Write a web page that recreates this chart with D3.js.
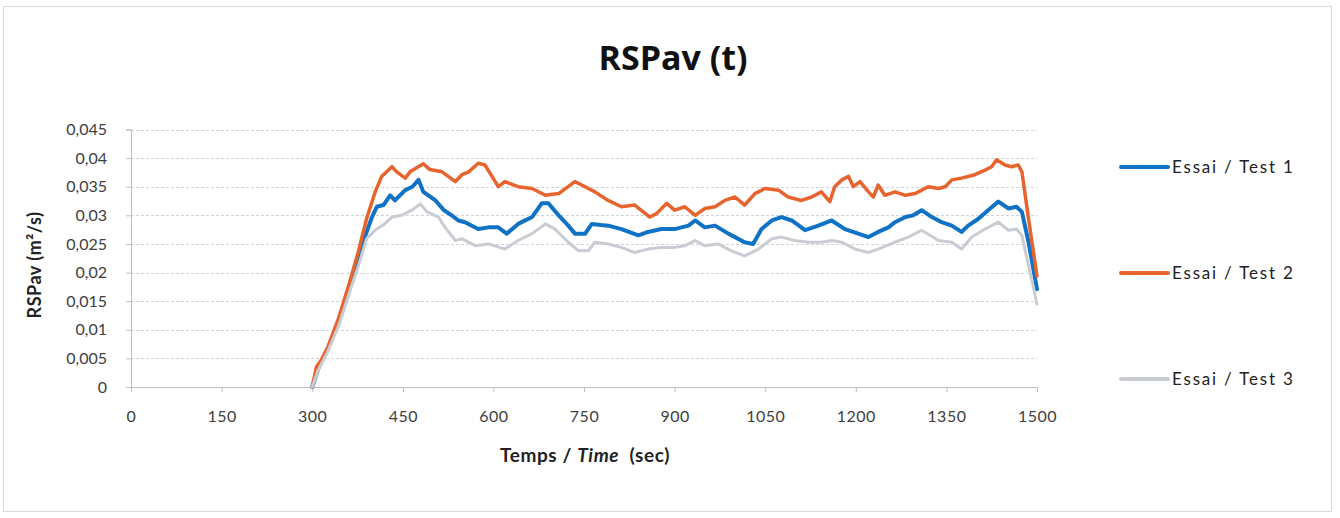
<!DOCTYPE html>
<html>
<head>
<meta charset="utf-8">
<script src="https://cdn.jsdelivr.net/npm/d3@7"></script>
<style>
  html, body { margin: 0; padding: 0; background: #fff; }
  svg { display: block; }
</style>
</head>
<body>
<svg id="chart" width="1340" height="518"></svg>
<script>
// ---- Data (time in s, RSPav in m²/s) ----
const seriesNames = ["Essai / Test 1", "Essai / Test 2", "Essai / Test 3"];
const seriesColors = ["#0f72c4", "#e8642e", "#c9ccd3"];

const test1 = [[300,0],[310,0.0032],[325,0.0065],[343,0.011],[360,0.0165],[382,0.0247],[399,0.0297],[407,0.0315],[418,0.0318],[429,0.0335],[437,0.0326],[454,0.0344],[466,0.035],[476,0.0362],[484,0.0341],[504,0.0326],[518,0.0309],[531,0.03],[542,0.0291],[553,0.0288],[575,0.0276],[592,0.0279],[608,0.0279],[622,0.0268],[641,0.0285],[664,0.0297],[680,0.0321],[691,0.0321],[708,0.03],[724,0.0282],[735,0.0268],[752,0.0268],[763,0.0285],[778,0.0283],[790,0.0282],[812,0.0276],[840,0.0265],[856,0.0271],[878,0.0276],[900,0.0276],[923,0.0282],[934,0.0291],[950,0.0279],[967,0.0282],[989,0.0268],[1016,0.0253],[1030,0.025],[1044,0.0276],[1061,0.0291],[1077,0.0297],[1094,0.0291],[1116,0.0274],[1138,0.0282],[1160,0.0291],[1182,0.0276],[1204,0.0268],[1221,0.0262],[1237,0.0271],[1254,0.0279],[1265,0.0288],[1282,0.0297],[1295,0.03],[1309,0.0309],[1326,0.0297],[1342,0.0288],[1359,0.0282],[1375,0.0271],[1386,0.0282],[1403,0.0294],[1419,0.0309],[1436,0.0324],[1453,0.0312],[1466,0.0315],[1475,0.0306],[1486,0.0253],[1500,0.0171]];

const test2 = [[300,0],[307,0.0035],[315,0.0047],[326,0.007],[343,0.0118],[360,0.0176],[376,0.0235],[390,0.0294],[404,0.034],[415,0.0368],[432,0.0385],[440,0.0376],[454,0.0365],[462,0.0376],[484,0.039],[495,0.038],[515,0.0376],[537,0.0359],[548,0.0371],[559,0.0376],[575,0.0391],[586,0.0388],[603,0.0359],[608,0.035],[619,0.0359],[641,0.035],[664,0.0347],[686,0.0335],[708,0.0338],[735,0.0359],[752,0.035],[768,0.0341],[790,0.0326],[812,0.0315],[834,0.0318],[859,0.0297],[870,0.0303],[887,0.0321],[900,0.0309],[917,0.0315],[934,0.03],[950,0.0312],[967,0.0315],[983,0.0326],[1000,0.0332],[1016,0.0318],[1033,0.0338],[1050,0.0347],[1072,0.0344],[1088,0.0332],[1110,0.0326],[1127,0.0332],[1143,0.0341],[1157,0.0324],[1165,0.035],[1177,0.0362],[1188,0.0368],[1196,0.035],[1207,0.0359],[1221,0.0341],[1229,0.0332],[1237,0.0353],[1248,0.0335],[1265,0.0341],[1282,0.0335],[1298,0.0338],[1320,0.035],[1337,0.0347],[1348,0.035],[1359,0.0362],[1375,0.0365],[1397,0.0371],[1414,0.0379],[1425,0.0385],[1433,0.0397],[1447,0.0388],[1458,0.0385],[1469,0.0388],[1475,0.0376],[1486,0.0294],[1500,0.0194]];

const test3 = [[300,0],[310,0.003],[325,0.006],[343,0.0105],[360,0.016],[376,0.021],[390,0.0259],[404,0.0274],[420,0.0285],[432,0.0297],[448,0.03],[465,0.0309],[479,0.032],[490,0.0306],[509,0.0297],[520,0.0279],[537,0.0256],[548,0.0259],[570,0.0247],[592,0.025],[619,0.0241],[641,0.0256],[664,0.0268],[686,0.0285],[702,0.0276],[724,0.0253],[741,0.0238],[757,0.0238],[768,0.0253],[790,0.025],[812,0.0244],[834,0.0235],[856,0.0241],[878,0.0244],[900,0.0244],[917,0.0247],[934,0.0256],[950,0.0247],[972,0.025],[994,0.0238],[1016,0.0229],[1039,0.0241],[1061,0.0259],[1077,0.0262],[1099,0.0256],[1121,0.0253],[1143,0.0253],[1160,0.0256],[1177,0.0253],[1199,0.0241],[1221,0.0235],[1237,0.0241],[1265,0.0253],[1287,0.0262],[1309,0.0274],[1337,0.0256],[1359,0.0253],[1375,0.0241],[1392,0.0262],[1414,0.0276],[1436,0.0288],[1453,0.0274],[1466,0.0276],[1475,0.0265],[1486,0.0212],[1500,0.0145]];

const xTicks = [0,150,300,450,600,750,900,1050,1200,1350,1500];
const yTicks = [0,0.005,0.01,0.015,0.02,0.025,0.03,0.035,0.04,0.045];
const yTickLabels = ["0","0,005","0,01","0,015","0,02","0,025","0,03","0,035","0,04","0,045"];

// ---- Drawing ----
const svg = d3.select("#chart");
const font = "Lato, 'Open Sans', sans-serif";

svg.append("rect").attr("x", 3.5).attr("y", 6.5).attr("width", 1328).attr("height", 505)
  .attr("fill", "#fff").attr("stroke", "#d9d9d9").attr("stroke-width", 1);

const x = d3.scaleLinear().domain([0, 1500]).range([131, 1037]);
const y = d3.scaleLinear().domain([0, 0.045]).range([387, 129.5]);

// gridlines
svg.append("g").selectAll("line").data(yTicks.filter(d => d > 0)).join("line")
  .attr("x1", x(0)).attr("x2", x(1500))
  .attr("y1", d => Math.round(y(d)) + 0.5).attr("y2", d => Math.round(y(d)) + 0.5)
  .attr("stroke", "#cfd2d8").attr("stroke-width", 1).attr("stroke-dasharray", "3,2");

// y axis
const yAxis = d3.axisLeft(y).tickValues(yTicks).tickSize(5).tickPadding(19)
  .tickFormat((d, i) => yTickLabels[i]);
const gy = svg.append("g").attr("transform", `translate(${x(0)},0)`).call(yAxis);
gy.select(".domain").attr("stroke", "#bfbfbf");
gy.selectAll(".tick line").attr("stroke", "#bfbfbf");
gy.selectAll(".tick text").attr("font-family", font).attr("font-size", 16).attr("fill", "#404040");

// x axis
const xAxis = d3.axisBottom(x).tickValues(xTicks).tickSize(5).tickPadding(19).tickFormat(d => String(d));
const gx = svg.append("g").attr("transform", `translate(0,${y(0)})`).call(xAxis);
gx.select(".domain").attr("stroke", "#bfbfbf");
gx.selectAll(".tick line").attr("stroke", "#bfbfbf");
gx.selectAll(".tick text").attr("font-family", font).attr("font-size", 16).attr("fill", "#404040")
  .attr("letter-spacing", "0.5px");

// lines
const line = d3.line().x(d => x(d[0])).y(d => y(d[1])).curve(d3.curveLinear);
const allSeries = [test1, test2, test3];
const widths = [4, 3.5, 3];
allSeries.forEach((s, i) => {
  svg.append("path").datum(s).attr("d", line)
    .attr("fill", "none").attr("stroke", seriesColors[i]).attr("stroke-width", widths[i])
    .attr("stroke-linejoin", "round").attr("stroke-linecap", "round");
});

// title
svg.append("text").attr("x", 673).attr("y", 70).attr("text-anchor", "middle")
  .attr("font-family", "'Open Sans', Lato, sans-serif").attr("font-weight", "bold")
  .attr("font-size", 34).attr("fill", "#111").text("RSPav (t)");

// x title
const xt = svg.append("text").attr("x", 585).attr("y", 462).attr("text-anchor", "middle")
  .attr("font-family", font).attr("font-weight", "bold").attr("font-size", 19)
  .attr("letter-spacing", "0.6px").attr("fill", "#222");
xt.append("tspan").text("Temps / ");
xt.append("tspan").attr("font-style", "italic").text("Time");
xt.append("tspan").text("\u00a0 (sec)");

// y title
svg.append("text").attr("transform", "translate(41,265) rotate(-90)").attr("text-anchor", "middle")
  .attr("font-family", font).attr("font-weight", "bold").attr("font-size", 18)
  .attr("letter-spacing", "0.5px").attr("fill", "#222")
  .text("RSPav (m²/s)");

// legend
const legendY = [167, 273, 379];
const lg = svg.append("g");
seriesNames.forEach((n, i) => {
  lg.append("line").attr("x1", 1121).attr("x2", 1168).attr("y1", legendY[i]).attr("y2", legendY[i])
    .attr("stroke", seriesColors[i]).attr("stroke-width", 4).attr("stroke-linecap", "round");
  lg.append("text").attr("x", 1172).attr("y", legendY[i]).attr("dy", "0.35em")
    .attr("font-family", font).attr("font-size", 17).attr("letter-spacing", "1.8px")
    .attr("fill", "#222").text(n);
});
</script>
</body>
</html>
